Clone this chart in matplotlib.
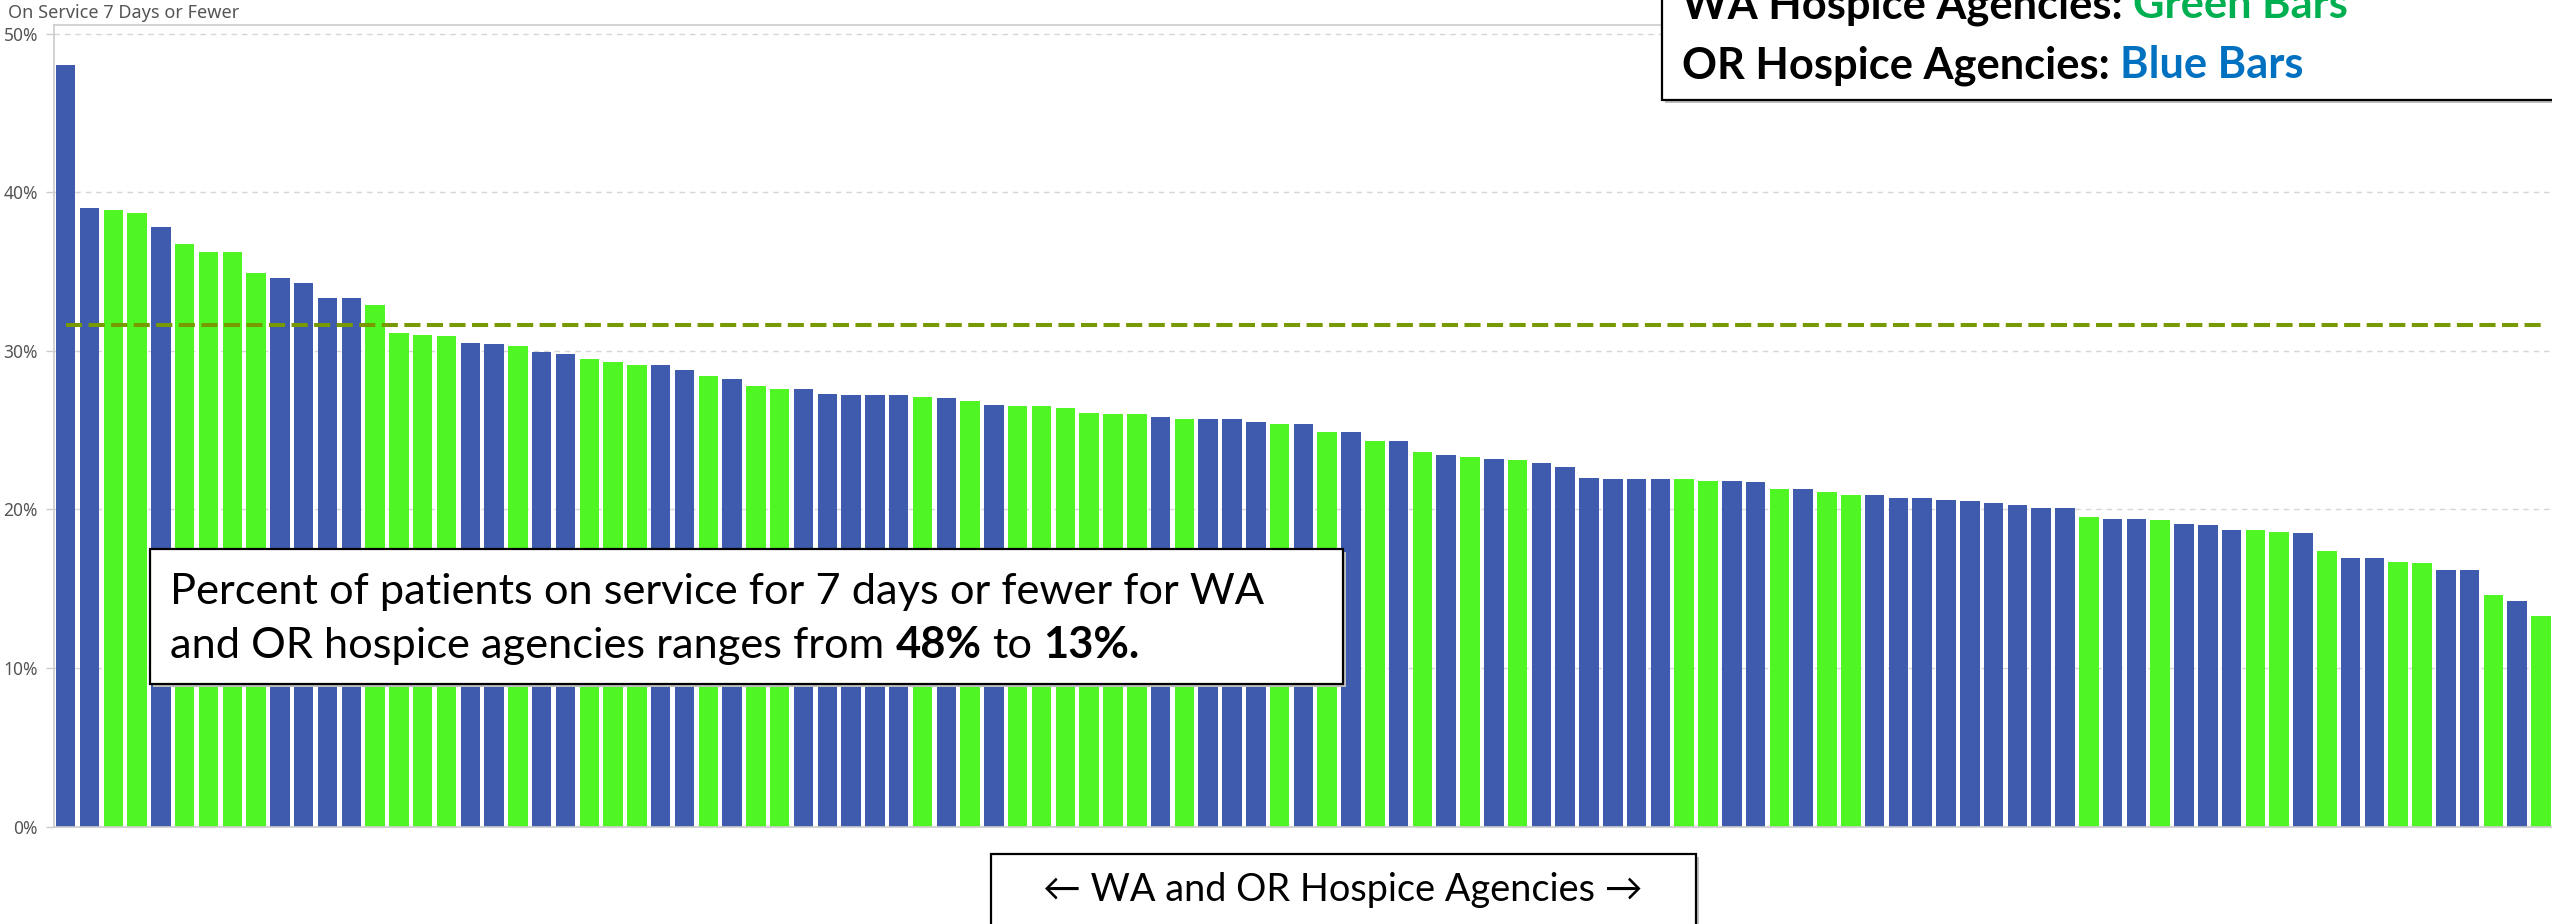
import matplotlib
matplotlib.use("Agg")
import matplotlib.pyplot as plt
from matplotlib.patches import Rectangle

# ---------------- data ----------------
values = [48.0, 39.0, 38.9, 38.7, 37.8, 36.7, 36.2, 36.2, 34.9, 34.6,
          34.3, 33.3, 33.3, 32.9, 31.1, 31.0, 30.9, 30.5, 30.4, 30.3,
          29.9, 29.8, 29.5, 29.3, 29.1, 29.1, 28.8, 28.4, 28.2, 27.8,
          27.6, 27.6, 27.3, 27.2, 27.2, 27.2, 27.1, 27.0, 26.8, 26.6,
          26.5, 26.5, 26.4, 26.1, 26.0, 26.0, 25.8, 25.7, 25.7, 25.7,
          25.5, 25.4, 25.4, 24.9, 24.9, 24.3, 24.3, 23.6, 23.4, 23.3,
          23.2, 23.1, 22.9, 22.7, 22.0, 21.9, 21.9, 21.9, 21.9, 21.8,
          21.8, 21.7, 21.3, 21.3, 21.1, 20.9, 20.9, 20.7, 20.7, 20.6,
          20.5, 20.4, 20.3, 20.1, 20.1, 19.5, 19.4, 19.4, 19.3, 19.1,
          19.0, 18.7, 18.7, 18.6, 18.5, 17.4, 16.9, 16.9, 16.7, 16.6,
          16.2, 16.2, 14.6, 14.2, 13.3]
# B = OR agency (blue), G = WA agency (green); groups of ten bars
state_groups = ["BBGGBGGGGB", "BBBGGGGBBG", "BBGGGBBGBG", "GBBBBBGBGB",
                "GGGGGGBGBB", "BGBGBGBGBG", "BGBBBBBBGG", "BBGBGGBBBB",
                "BBBBBGBBGB", "BBGGBGBBGG", "BBGBG"]
states = list("".join(state_groups))
mean_value = 31.6
yticks = [0, 10, 20, 30, 40, 50]
ytick_labels = ["0%", "10%", "20%", "30%", "40%", "50%"]
y_title = "On Service 7 Days or Fewer"
x_label = "\u2190 WA and OR Hospice Agencies \u2192"
note_line1 = "Percent of patients on service for 7 days or fewer for WA"
note_line2 = [("and OR hospice agencies ranges from", "normal"), ("48%", "bold"),
              ("to", "normal"), ("13%.", "bold")]
legend_lines = [[("WA Hospice Agencies:", "#000000"), ("Green Bars", "#00B050")],
                [("OR Hospice Agencies:", "#000000"), ("Blue Bars", "#0070C0")]]

COLORS = {"B": "#3E5BAE", "G": "#50F623"}

W, H = 2552, 924
fig = plt.figure(figsize=(W / 100, H / 100), dpi=100)
renderer = fig.canvas.get_renderer()

def fx(x):
    return x / W

def fy(y):
    return 1 - y / H

ax_left, ax_right, ax_top, ax_bottom = 54, 2552, 25, 826.5
ax = fig.add_axes([fx(ax_left), fy(ax_bottom), (ax_right - ax_left) / W, (ax_bottom - ax_top) / H])

xs = list(range(len(values)))
ax.bar(xs, values, width=0.82, color=[COLORS[s] for s in states], linewidth=0, zorder=2)
ax.set_xlim(-0.49, 104.46)
ax.set_ylim(0, 50.54)
ax.set_yticks(yticks)
ax.set_yticklabels(ytick_labels, fontfamily="Noto Sans", fontsize=12.5, color="#555555")
ax.set_xticks([])
ax.tick_params(axis="y", length=6, width=1, color="#cccccc", pad=5.5)
ax.yaxis.grid(True, color="#d6d6d6", linewidth=1.0, linestyle=(0, (4, 3.5)), zorder=0)
ax.set_axisbelow(True)
for name in ["left", "top", "bottom"]:
    ax.spines[name].set_color("#cccccc")
    ax.spines[name].set_linewidth(1.2)
ax.spines["right"].set_visible(False)

ml = ax.hlines(mean_value, 0, len(values) - 1, color="#789A00", linewidth=2.9, zorder=3)
ml.set_linestyle((0, (4.0, 1.6)))

# y title
fig.text(fx(8), fy(13), y_title, fontfamily="Noto Sans", fontsize=13, color="#555555",
         ha="left", va="center")

CAL = ["Lato", "DejaVu Sans"]

def width_of(s, size, weight="normal"):
    t = fig.text(0, 0, s, fontfamily=CAL, fontsize=size, fontweight=weight)
    w = t.get_window_extent(renderer).width
    t.remove()
    return w

def fit_size(s, target, weight="normal"):
    w = width_of(s, 20, weight)
    return 20 * target / w

def space_w(size, weight="normal"):
    return width_of("a a", size, weight) - width_of("aa", size, weight)

def box(x0, y0, x1, y1):
    sh = Rectangle((fx(x0) + 3 / W, fy(y1) - 3 / H), (x1 - x0) / W, (y1 - y0) / H,
                   transform=fig.transFigure, facecolor="#bfbfbf", edgecolor="none", zorder=9)
    fig.add_artist(sh)
    r = Rectangle((fx(x0), fy(y1)), (x1 - x0) / W, (y1 - y0) / H, transform=fig.transFigure,
                  facecolor="white", edgecolor="black", linewidth=1.6, zorder=10)
    fig.add_artist(r)

# annotation box
box(150, 549, 1343, 684)
fs_note = fit_size(note_line1, 1098)
fig.text(fx(170), fy(604), note_line1, fontfamily=CAL, fontsize=fs_note, color="black",
         ha="left", va="baseline", zorder=11)
xcur = 170
for s, wt in note_line2:
    t = fig.text(fx(xcur), fy(658), s, fontfamily=CAL, fontsize=fs_note, fontweight=wt,
                 color="black", ha="left", va="baseline", zorder=11)
    xcur += t.get_window_extent(renderer).width + space_w(fs_note, "normal")

# legend box (top right, clipped at top as in the original)
box(1662, -20, 2600, 100)
fs_leg = fit_size("OR Hospice Agencies: Blue Bars", 622, "bold")
for line, base in zip(legend_lines, [18, 78]):
    xcur = 1682
    for s, c in line:
        t = fig.text(fx(xcur), fy(base), s, fontfamily=CAL, fontsize=fs_leg, fontweight="bold",
                     color=c, ha="left", va="baseline", zorder=11)
        xcur += t.get_window_extent(renderer).width + space_w(fs_leg, "bold")

# x label box
box(991, 854, 1696, 940)
fs_x = fit_size(x_label, 600)
fig.text(fx(1343), fy(890), x_label, fontfamily=CAL, fontsize=fs_x, color="black",
         ha="center", va="center", zorder=11)

fig.savefig("out.png", dpi=100)
